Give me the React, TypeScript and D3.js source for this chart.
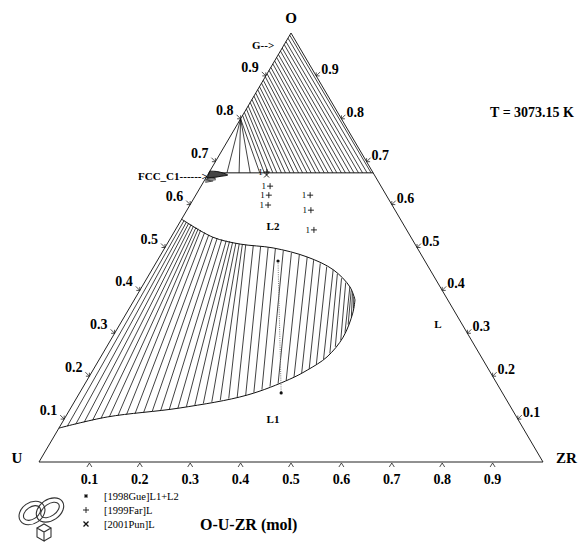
import React from "react";
import * as d3 from "d3";

const W = 578;
const H = 545;

// ---- axis ticks ----
const tickValues = [0.1, 0.2, 0.3, 0.4, 0.5, 0.6, 0.7, 0.8, 0.9];
const tickLabels = ["0.1", "0.2", "0.3", "0.4", "0.5", "0.6", "0.7", "0.8", "0.9"];

// ---- G + L region (top): tie lines from O-U edge (xO) to liquid line at xO = liqO (xZr) ----
const liqO = 0.674;
const gasTieO = [0.8, 0.8, 0.8, 0.8, 0.808, 0.815, 0.823, 0.83, 0.838, 0.845, 0.853, 0.86, 0.868, 0.875, 0.883, 0.89, 0.898, 0.905, 0.913, 0.92, 0.928, 0.935, 0.943, 0.95, 0.958, 0.965, 0.973, 0.98, 0.988, 0.995];
const gasTieZr = [0.036, 0.06, 0.082, 0.101, 0.11, 0.118, 0.127, 0.135, 0.144, 0.152, 0.161, 0.169, 0.178, 0.186, 0.195, 0.203, 0.212, 0.22, 0.229, 0.237, 0.246, 0.254, 0.263, 0.271, 0.28, 0.288, 0.297, 0.305, 0.314, 0.322];

// ---- FCC_C1 small region ----
const fccZr = [0, 0.015, 0.03, 0.04, 0.028, 0.014, 0.003];
const fccO = [0.678, 0.677, 0.673, 0.669, 0.666, 0.663, 0.661];
const fccTieA = [[0, 0.662], [0.001, 0.658], [0.002, 0.655], [0.004, 0.652]];
const fccTieB = [[0.016, 0.664], [0.02, 0.661], [0.022, 0.658], [0.018, 0.655]];

// ---- L1 + L2 miscibility gap ----
const l2Zr = [0, 0.083, 0.145, 0.215, 0.293, 0.36, 0.413, 0.438];
const l2O = [0.566, 0.524, 0.508, 0.499, 0.478, 0.448, 0.408, 0.378];
const l1Zr = [0, 0.083, 0.217, 0.335, 0.401, 0.425, 0.449, 0.458, 0.449, 0.438];
const l1O = [0.079, 0.105, 0.126, 0.156, 0.193, 0.214, 0.245, 0.291, 0.347, 0.378];
// tie lines: fractional positions along the L1 and L2 boundaries
const tieL1 = [0.025, 0.05, 0.075, 0.1, 0.125, 0.15, 0.175, 0.2, 0.225, 0.25, 0.275, 0.3, 0.325, 0.35, 0.375, 0.4, 0.425, 0.45, 0.475, 0.5, 0.525, 0.55, 0.575, 0.6, 0.625, 0.65, 0.675, 0.7, 0.725, 0.75, 0.775, 0.8, 0.825, 0.85, 0.875, 0.9, 0.925, 0.95, 0.975];
const tieL2 = [0.014, 0.028, 0.041, 0.055, 0.069, 0.083, 0.096, 0.11, 0.133, 0.157, 0.18, 0.203, 0.227, 0.25, 0.267, 0.283, 0.3, 0.317, 0.333, 0.35, 0.388, 0.425, 0.463, 0.5, 0.541, 0.583, 0.624, 0.665, 0.701, 0.738, 0.774, 0.81, 0.84, 0.87, 0.9, 0.93, 0.948, 0.965, 0.983];

// ---- experimental data ----
const gueZr = [0.24, 0.4];
const gueO = [0.4685, 0.161];
const farZr = [0.114, 0.137, 0.145, 0.155, 0.227, 0.246, 0.275];
const farO = [0.676, 0.643, 0.622, 0.599, 0.622, 0.587, 0.541];
const punZr = [0.117];
const punO = [0.669];

// ---- legend ----
const legendSymbols = ["*", "+", "x"];
const legendTexts = ["[1998Gue]L1+L2", "[1999Far]L", "[2001Pun]L"];

const FONT = "'Liberation Serif', 'Times New Roman', serif";

const xS = d3.scaleLinear().domain([0, 1]).range([39, 543]);
const yS = d3.scaleLinear().domain([0, 1]).range([462, 33]);
const P = (zr: number, o: number): [number, number] => [xS(zr + o / 2), yS(o)];

function along(pts: [number, number][], t: number): [number, number] {
  const lens = [0];
  for (let i = 1; i < pts.length; i++) {
    lens.push(lens[i - 1] + Math.hypot(pts[i][0] - pts[i - 1][0], pts[i][1] - pts[i - 1][1]));
  }
  const target = t * lens[lens.length - 1];
  for (let i = 1; i < pts.length; i++) {
    if (lens[i] >= target) {
      const f = (target - lens[i - 1]) / (lens[i] - lens[i - 1] || 1);
      return [pts[i - 1][0] + f * (pts[i][0] - pts[i - 1][0]), pts[i - 1][1] + f * (pts[i][1] - pts[i - 1][1])];
    }
  }
  return pts[pts.length - 1];
}

const plusPath = (x: number, y: number, r: number) => `M${x - r},${y}H${x + r}M${x},${y - r}V${y + r}`;
const crossPath = (x: number, y: number, r: number) => `M${x - r},${y - r}L${x + r},${y + r}M${x - r},${y + r}L${x + r},${y - r}`;
const starPath = (x: number, y: number, r: number) =>
  plusPath(x, y, r) + crossPath(x, y, r * 0.7);

export default function App() {
  const O = P(0, 1);
  const U = P(0, 0);
  const Z = P(1, 0);
  const line = d3.line().curve(d3.curveCatmullRom.alpha(0.5));
  const l2Pts = l2Zr.map((z, i) => P(z, l2O[i]));
  const l1Pts = l1Zr.map((z, i) => P(z, l1O[i]));
  const fccPts = fccZr.map((z, i) => P(z, fccO[i]));

  // arrow-like tick: short shaft plus two head arms meeting at the tip
  const arrow = (tip: [number, number], shaft: [number, number], a: [number, number], b: [number, number]) =>
    `M${tip[0] + shaft[0]},${tip[1] + shaft[1]}L${tip[0]},${tip[1]}` +
    `M${tip[0] + a[0]},${tip[1] + a[1]}L${tip[0]},${tip[1]}L${tip[0] + b[0]},${tip[1] + b[1]}`;

  const sw = 0.8;
  const legendSymY = [496, 510, 524];
  return (
    <svg width={W} height={H} style={{ position: "absolute", left: 0, top: 0, background: "#fff" }} fontFamily={FONT}>
      <rect width={W} height={H} fill="#fff" />
      {/* triangle */}
      <path d={`M${U[0]},${U[1]}L${Z[0]},${Z[1]}L${O[0]},${O[1]}Z`} fill="none" stroke="#222" strokeWidth={1} />

      {/* ticks */}
      {tickValues.map((v, i) => {
        const pl = P(0, v);
        const pr = P(1 - v, v);
        const pb = P(v, 0);
        return (
          <g key={i}>
            <path d={arrow(pl, [-4, -4], [-3.5, 0], [0, -3.5])} stroke="#222" fill="none" strokeWidth={0.8} />
            <path d={arrow(pr, [4, -4], [3.5, 0], [0, -3.5])} stroke="#222" fill="none" strokeWidth={0.8} />
            <path d={arrow([pb[0], pb[1] + 1], [0, 0], [-2.5, 4], [2.5, 4])} stroke="#222" fill="none" strokeWidth={0.8} />
            <text x={pl[0] - 7} y={pl[1] - 4} textAnchor="end" fontSize={14} fontWeight="bold" fill="#000">{tickLabels[i]}</text>
            <text x={pr[0] + 5} y={pr[1] - 2} textAnchor="start" fontSize={14} fontWeight="bold" fill="#000">{tickLabels[i]}</text>
            <text x={pb[0]} y={484} textAnchor="middle" fontSize={14} fontWeight="bold" fill="#000">{tickLabels[i]}</text>
          </g>
        );
      })}

      {/* corner labels */}
      <text x={O[0]} y={23} textAnchor="middle" fontSize={15} fontWeight="bold">O</text>
      <text x={17} y={463} textAnchor="middle" fontSize={15} fontWeight="bold">U</text>
      <text x={556} y={463} textAnchor="start" fontSize={15} fontWeight="bold">ZR</text>
      <text x={574} y={117} textAnchor="end" fontSize={14} fontWeight="bold">T = 3073.15 K</text>

      {/* G + L region */}
      <line x1={P(0, liqO)[0]} y1={P(0, liqO)[1]} x2={P(1 - liqO, liqO)[0]} y2={P(1 - liqO, liqO)[1]} stroke="#111" strokeWidth={1} />
      {gasTieO.map((a, i) => {
        const p1 = P(0, a);
        const p2 = P(gasTieZr[i], liqO);
        return <line key={i} x1={p1[0]} y1={p1[1]} x2={p2[0]} y2={p2[1]} stroke="#111" strokeWidth={sw} />;
      })}
      <text x={252} y={49} fontSize={11} fontWeight="bold">G--&gt;</text>

      {/* FCC_C1 */}
      <path d={(line(fccPts) || "") + "Z"} fill="#444" stroke="#111" strokeWidth={1} />
      {fccTieA.map((a, i) => {
        const p1 = P(a[0], a[1]);
        const p2 = P(fccTieB[i][0], fccTieB[i][1]);
        return <line key={i} x1={p1[0]} y1={p1[1]} x2={p2[0]} y2={p2[1]} stroke="#111" strokeWidth={0.8} />;
      })}
      <text x={138} y={180} fontSize={11} fontWeight="bold">FCC_C1------&gt;</text>

      {/* L1 + L2 gap */}
      <path d={line(l2Pts) || ""} fill="none" stroke="#111" strokeWidth={1} />
      <path d={line(l1Pts) || ""} fill="none" stroke="#111" strokeWidth={1} />
      {tieL1.map((t, i) => {
        const p1 = along(l1Pts, t);
        const p2 = along(l2Pts, tieL2[i]);
        return <line key={i} x1={p1[0]} y1={p1[1]} x2={p2[0]} y2={p2[1]} stroke="#111" strokeWidth={sw} />;
      })}

      {/* phase labels */}
      <text x={273} y={230} textAnchor="middle" fontSize={11} fontWeight="bold">L2</text>
      <text x={273} y={423} textAnchor="middle" fontSize={11} fontWeight="bold">L1</text>
      <text x={438} y={328} textAnchor="middle" fontSize={11} fontWeight="bold">L</text>

      {/* experimental tie line [1998Gue] */}
      <line x1={P(gueZr[0], gueO[0])[0]} y1={P(gueZr[0], gueO[0])[1]} x2={P(gueZr[1], gueO[1])[0]} y2={P(gueZr[1], gueO[1])[1]} stroke="#777" strokeWidth={1} strokeDasharray="1,1.2" />
      {gueZr.map((z, i) => {
        const p = P(z, gueO[i]);
        return <circle key={i} cx={p[0]} cy={p[1]} r={1.6} fill="#111" />;
      })}
      {farZr.map((z, i) => {
        const p = P(z, farO[i]);
        return (
          <g key={i}>
            <text x={p[0] - 4} y={p[1] + 3} textAnchor="end" fontSize={9} fill="#000">1</text>
            <path d={plusPath(p[0], p[1], 3)} stroke="#111" strokeWidth={0.9} fill="none" />
          </g>
        );
      })}
      {punZr.map((z, i) => {
        const p = P(z, punO[i]);
        return <path key={i} d={crossPath(p[0], p[1], 2.5)} stroke="#111" strokeWidth={0.9} fill="none" />;
      })}

      {/* legend */}
      <path d={starPath(86, legendSymY[0], 2)} stroke="#111" strokeWidth={1} fill="none" />
      <path d={plusPath(86, legendSymY[1], 3)} stroke="#111" strokeWidth={0.9} fill="none" />
      <path d={crossPath(86, legendSymY[2], 2.5)} stroke="#111" strokeWidth={1.3} fill="none" />
      {legendSymbols.map((s, i) => (
        <text key={i} x={104} y={legendSymY[i] + 4} fontSize={10.5} fill="#000" data-symbol={s}>{legendTexts[i]}</text>
      ))}
      <text x={200} y={530} fontSize={16} fontWeight="bold">O-U-ZR (mol)</text>

      {/* logo (approximate) */}
      <g transform="translate(15,494)" fill="none" stroke="#333" strokeWidth={1.1}>
        <ellipse cx={17} cy={19} rx={14} ry={10.5} transform="rotate(-35 17 19)" />
        <ellipse cx={17} cy={19} rx={9.5} ry={6} transform="rotate(-35 17 19)" />
        <ellipse cx={35} cy={16} rx={15} ry={10.5} transform="rotate(-35 35 16)" />
        <ellipse cx={35} cy={16} rx={10.5} ry={6} transform="rotate(-35 35 16)" />
        <path d="M22,34 L29,30 L36,34 L29,38 Z M22,34 L22,43 L29,47 L29,38 M29,47 L36,43 L36,34" fill="#fff" />
      </g>
    </svg>
  );
}
